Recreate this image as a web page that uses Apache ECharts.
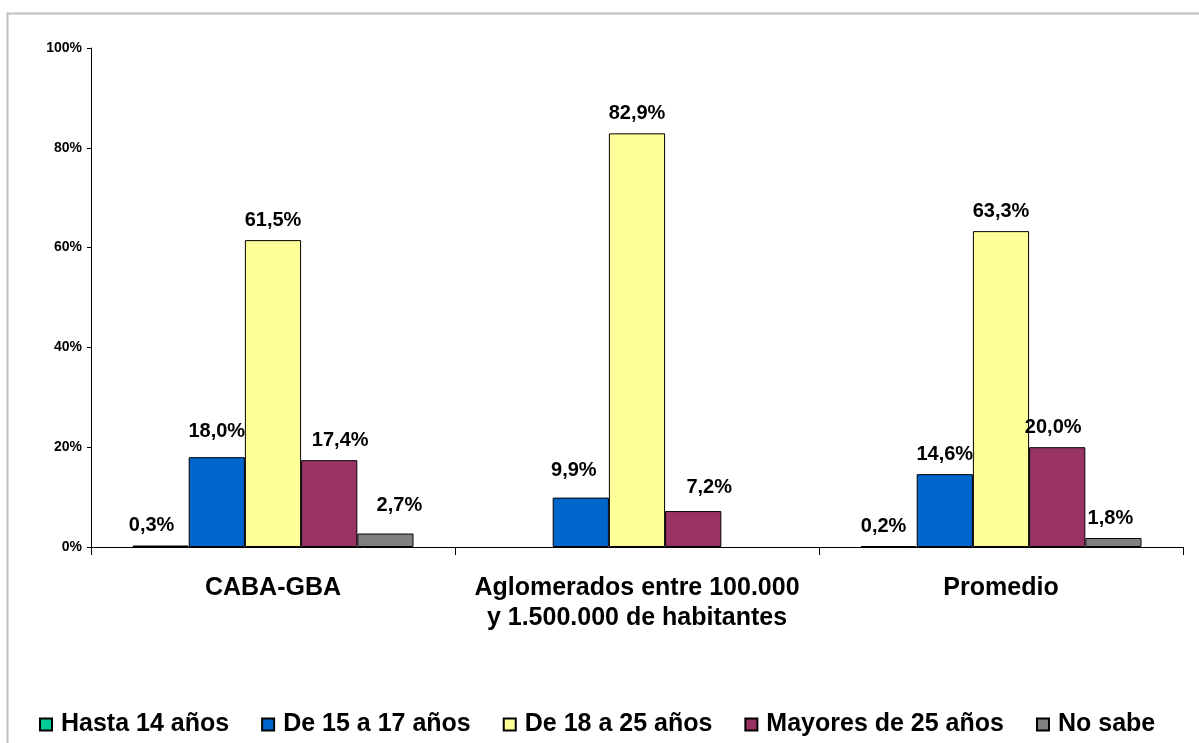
<!DOCTYPE html>
<html>
<head>
<meta charset="utf-8">
<script src="https://cdn.jsdelivr.net/npm/echarts@6/dist/echarts.min.js"></script>
<style>
html,body{margin:0;padding:0;background:#fff;}
#chart{width:1199px;height:743px;}
</style>
</head>
<body>
<div id="chart"></div>
<script>
const categories = ['CABA-GBA', 'Aglomerados entre 100.000\ny 1.500.000 de habitantes', 'Promedio'];
const seriesNames = ['Hasta 14 años', 'De 15 a 17 años', 'De 18 a 25 años', 'Mayores de 25 años', 'No sabe'];
const hasta14 = [0.3, null, 0.2];
const de15a17 = [18.0, 9.9, 14.6];
const de18a25 = [61.5, 82.9, 63.3];
const mayores25 = [17.4, 7.2, 20.0];
const noSabe = [2.7, null, 1.8];
const yTicks = [0, 20, 40, 60, 80, 100];

const colors = ['#00CC99', '#0066CC', '#FFFF99', '#993366', '#808080'];
const values = [hasta14, de15a17, de18a25, mayores25, noSabe];
const font = 'Liberation Sans, Arial, sans-serif';

// manual label nudges as in the original spreadsheet chart [series][category] -> [dx, dy]
const labelNudge = [
  [[-9, 0], [0, 0], [-5, 0]],
  [[0, -6], [-7, -7], [0, 0]],
  [[0, 0], [0, 0], [0, 0]],
  [[11, 0], [16, -4], [-4, 0]],
  [[14, -8], [0, 0], [-3, 0]]
];

const chart = echarts.init(document.getElementById('chart'));
chart.setOption({
  animation: false,
  backgroundColor: '#ffffff',
  graphic: [{
    type: 'rect',
    left: 5, top: 11,
    shape: {width: 1400, height: 900},
    style: {fill: 'none', stroke: '#c0c0c0', lineWidth: 2},
    silent: true
  }],
  color: colors,
  grid: {left: 91, right: 16, top: 48, bottom: 196, containLabel: false},
  legend: {
    left: 34, top: 707,
    itemWidth: 12, itemHeight: 12, itemGap: 32,
    icon: 'rect',
    textStyle: {fontFamily: font, fontWeight: 'bold', fontSize: 25, color: '#000', padding: [0, 0, 0, 4]},
    data: seriesNames
  },
  xAxis: {
    type: 'category',
    data: categories,
    axisLine: {lineStyle: {color: '#000', width: 1}},
    axisTick: {show: true, length: 8, lineStyle: {color: '#000'}},
    axisLabel: {fontFamily: font, fontWeight: 'bold', fontSize: 25, color: '#000', margin: 26, lineHeight: 30, interval: 0}
  },
  yAxis: {
    type: 'value',
    min: 0, max: 100, interval: 20,
    axisLine: {show: true, lineStyle: {color: '#000', width: 1}},
    axisTick: {show: true, length: 4, lineStyle: {color: '#000'}},
    splitLine: {show: false},
    axisLabel: {fontFamily: font, fontWeight: 'bold', fontSize: 14, color: '#000', margin: 9,
      formatter: v => yTicks.includes(v) ? v + '%' : ''}
  },
  series: seriesNames.map((name, i) => ({
    name: name,
    type: 'bar',
    data: values[i].map((v, j) => ({value: v, label: {offset: labelNudge[i][j]}})),
    barGap: '0%',
    barCategoryGap: '22.8%',
    itemStyle: {color: colors[i], borderColor: '#000', borderWidth: 1},
    label: {
      show: true, position: 'top', distance: 10,
      fontFamily: font, fontWeight: 'bold', fontSize: 20, color: '#000',
      formatter: p => p.value == null ? '' : p.value.toFixed(1).replace('.', ',') + '%'
    }
  }))
});
</script>
</body>
</html>
